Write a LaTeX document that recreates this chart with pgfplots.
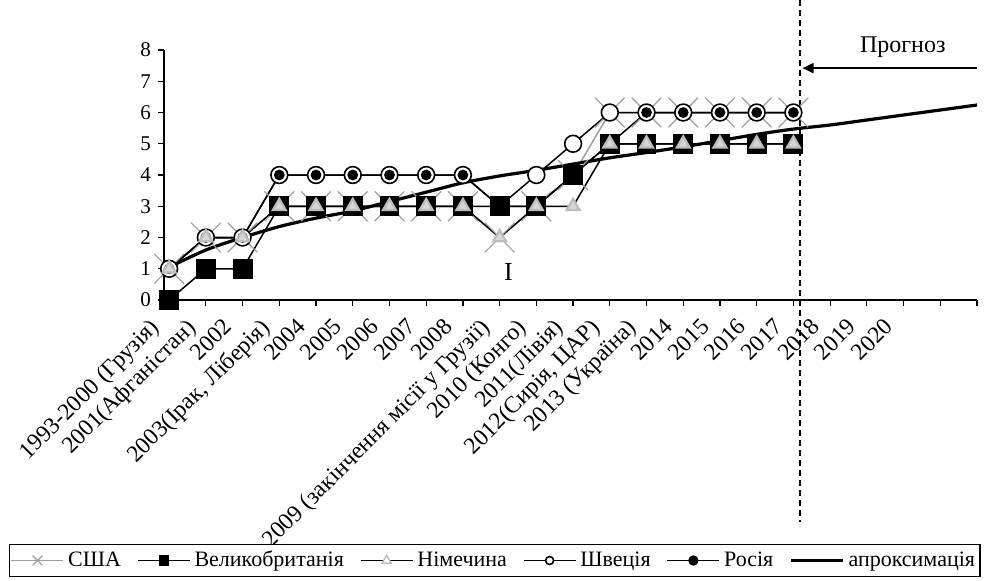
\documentclass[border=0pt]{standalone}
\usepackage{fontspec}
\setmainfont{Liberation Serif}
\usepackage{pgfplots}
\pgfplotsset{compat=1.18}
\usetikzlibrary{arrows.meta}
\definecolor{usagray}{gray}{0.62}
\definecolor{degray}{gray}{0.74}

\begin{document}
\begin{tikzpicture}
\begin{axis}[
  at={(0pt,0pt)}, anchor=south west,
  scale only axis, width=406.5pt, height=125pt,
  xmin=-0.14, xmax=22, ymin=0, ymax=8,
  axis x line=bottom, axis y line=left,
  axis line style={-, line width=0.8pt},
  xtick={0,...,22}, ytick={0,...,8},
  xticklabels={1993-2000 (Грузія),2001(Афганістан),2002,{2003(Ірак, Ліберія)},2004,2005,2006,2007,2008,
    2009 (закінчення місії у Грузії),2010 (Конго),2011(Лівія),{2012(Сирія, ЦАР)},2013 (Україна),
    2014,2015,2016,2017,2018,2019,2020,,},
  tick align=outside, major tick length=3pt,
  tick style={black, line width=0.6pt},
  x tick label style={xshift=-10.3pt, yshift=-5.3pt, rotate=45, anchor=north east, inner sep=0pt,
    font=\fontsize{11.8}{14}\selectfont},
  y tick label style={font=\fontsize{10.5}{12}\selectfont},
  /pgf/number format/assume math mode=true,
  clip=false,
  legend columns=6,
  legend image code/.code={\draw[mark repeat=2,mark phase=2,#1] plot coordinates {(0pt,0pt) (13pt,0pt) (26pt,0pt)};},
  legend style={at={(0.407,-1.042)}, anchor=center, draw=black, line width=0.6pt,
    font=\fontsize{11}{13}\selectfont, inner xsep=0.5pt, inner ysep=1.5pt,
    /tikz/every even column/.append style={column sep=6pt}},
]
% США
\addplot[forget plot, color=usagray, line width=0.75pt, mark=x, mark size=10.5pt,
  mark options={line width=0.6pt}] coordinates {
  (0,1) (1,2) (2,2) (3,3) (4,3) (5,3) (6,3) (7,3) (8,3) (9,2) (10,3) (11,4)
  (12,6) (13,6) (14,6) (15,6) (16,6) (17,6)};
% Швеція
\addplot[forget plot, color=black, line width=0.75pt, mark=*, mark size=4.2pt,
  mark options={fill=white, draw=black, line width=0.8pt}] coordinates {
  (0,1) (1,2) (2,2) (3,4) (4,4) (5,4) (6,4) (7,4) (8,4) (9,3) (10,4) (11,5)
  (12,6) (13,6) (14,6) (15,6) (16,6) (17,6)};
% Росія
\addplot[forget plot, color=black, line width=0.75pt, mark=*, mark size=2.3pt] coordinates {
  (0,1) (1,2) (2,2) (3,4) (4,4) (5,4) (6,4) (7,4) (8,4) (9,3) (10,3) (11,4)
  (12,5) (13,6) (14,6) (15,6) (16,6) (17,6)};
% Великобританія
\addplot[forget plot, color=black, line width=0.75pt, mark=square*, mark size=4.6pt] coordinates {
  (0,0) (1,1) (2,1) (3,3) (4,3) (5,3) (6,3) (7,3) (8,3) (9,3) (10,3) (11,4)
  (12,5) (13,5) (14,5) (15,5) (16,5) (17,5)};
% Німечина
\addplot[forget plot, color=black, line width=0.75pt, mark=triangle*, mark size=3.7pt,
  mark options={fill=degray!60, draw=degray, line width=1.1pt}] coordinates {
  (0,1) (1,2) (2,2) (3,3) (4,3) (5,3) (6,3) (7,3) (8,3) (9,2) (10,3) (11,3)
  (12,5) (13,5) (14,5) (15,5) (16,5) (17,5)};
% апроксимація
\addplot[forget plot, color=black, line width=1.6pt, smooth] coordinates {
  (0,1.05) (1,1.6) (2,2.0) (3,2.35) (4,2.62) (5,2.85) (6,3.15) (7,3.45) (8,3.75)
  (9,3.97) (10,4.15) (11,4.35) (12,4.55) (13,4.72) (14,4.9) (15,5.1) (16,5.3)
  (17,5.47) (18,5.6) (19,5.76) (20,5.92) (21,6.08) (22,6.24)};

\addlegendimage{color=usagray, line width=0.75pt, mark=x, mark size=3.5pt, mark options={line width=0.6pt}}
\addlegendentry{США}
\addlegendimage{color=black, line width=0.75pt, mark=square*, mark size=2.2pt}
\addlegendentry{Великобританія}
\addlegendimage{color=black, line width=0.75pt, mark=triangle*, mark size=2.6pt, mark options={fill=white, draw=degray, line width=0.7pt}}
\addlegendentry{Німечина}
\addlegendimage{color=black, line width=0.75pt, mark=*, mark size=2pt, mark options={fill=white, draw=black, line width=0.8pt}}
\addlegendentry{Швеція}
\addlegendimage{color=black, line width=0.75pt, mark=*, mark size=2.2pt}
\addlegendentry{Росія}
\addlegendimage{color=black, line width=1.6pt}
\addlegendentry{апроксимація}

\draw[black, line width=0.8pt, dash pattern=on 3pt off 2pt] (axis cs:17.18,9.6) -- (axis cs:17.18,-7.1);
\draw[black, line width=0.9pt, -{Triangle[length=5.5pt,width=5pt]}] (axis cs:22,7.42) -- (axis cs:17.25,7.42);
\node[font=\fontsize{12}{14}\selectfont] at (axis cs:19.98,8.1) {Прогноз};
\node[font=\fontsize{13}{15}\selectfont] at (axis cs:9.24,0.9) {I};
\end{axis}
\pgfresetboundingbox
\path (-82pt,-140pt) rectangle (410.5pt,150pt);
\end{tikzpicture}
\end{document}
